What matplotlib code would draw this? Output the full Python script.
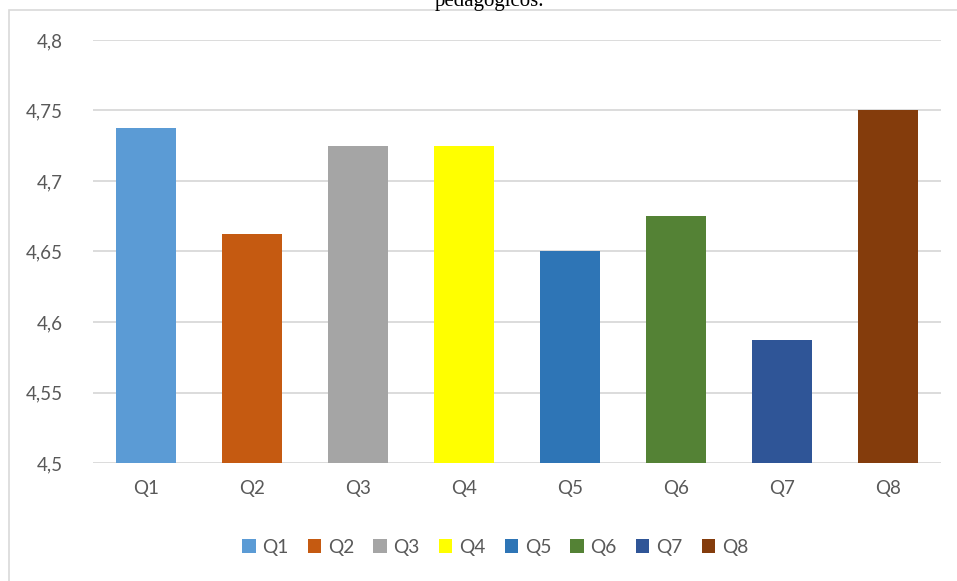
import matplotlib as mpl
mpl.use('Agg')
import matplotlib.pyplot as plt
from matplotlib.patches import Rectangle, Patch

# Data
categories = ["Q1", "Q2", "Q3", "Q4", "Q5", "Q6", "Q7", "Q8"]
values = [4.7375, 4.6625, 4.725, 4.725, 4.65, 4.675, 4.5875, 4.75]
colors = ["#5B9BD5", "#C55A11", "#A5A5A5", "#FFFF00",
          "#2E75B6", "#548235", "#2F5597", "#843C0C"]
yticks = [4.5, 4.55, 4.6, 4.65, 4.7, 4.75, 4.8]
ytick_labels = ["4,5", "4,55", "4,6", "4,65", "4,7", "4,75", "4,8"]

W, H = 957, 581
fig = plt.figure(figsize=(W / 100, H / 100), dpi=100)
ax = fig.add_axes([93 / W, 1 - 463 / H, (941 - 93) / W, (463 - 40) / H])

grid_col = "#D9D9D9"
text_col = "#595959"
font = "Lato"

x = range(len(categories))
ax.bar(x, values, width=0.566, color=colors, zorder=3)

ax.set_ylim(4.5, 4.8)
ax.set_xlim(-0.5, len(categories) - 0.5)
ax.set_yticks(yticks)
ax.set_yticklabels(ytick_labels, fontsize=13.5, color=text_col, family=font)
ax.set_xticks(list(x))
ax.set_xticklabels(categories, fontsize=13.5, color=text_col, family=font)
ax.tick_params(axis='both', length=0)
ax.tick_params(axis='y', pad=22)
ax.tick_params(axis='x', pad=12)

for s in ax.spines.values():
    s.set_visible(False)
ax.yaxis.grid(True, color=grid_col, linewidth=1.3, zorder=0)
ax.set_axisbelow(True)

# Legend
handles = [Patch(facecolor=c, edgecolor='none', label=l) for c, l in zip(colors, categories)]
fig.legend(handles=handles, loc='center', bbox_to_anchor=(495 / W, 1 - 547 / H),
           ncol=len(categories), frameon=False, handlelength=0.7, handleheight=0.7,
           handletextpad=0.35, columnspacing=1.0,
           prop={'family': font, 'size': 13.8}, labelcolor=text_col)

# Chart border (clipped at right and bottom)
fig.patches.append(Rectangle((9 / W, -0.05), 1.1, 1 - 10 / H + 0.05,
                             transform=fig.transFigure, fill=False,
                             edgecolor=grid_col, linewidth=1.2))

# Caption text cut off at the top, as in the source image
fig.text(489 / W, 1 - 6 / H, "pedagógicos.", ha='center', va='baseline',
         family="Liberation Serif", fontsize=15, color="black")

fig.savefig("out.png", dpi=100, facecolor="white")
